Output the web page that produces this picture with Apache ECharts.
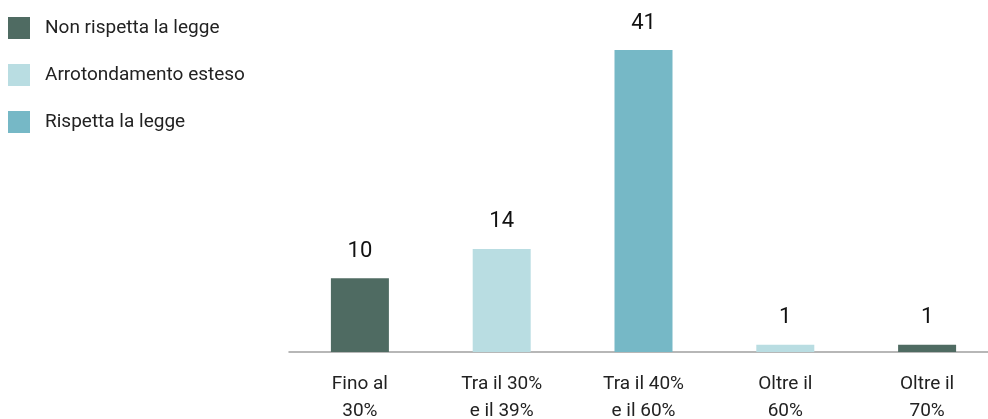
<!DOCTYPE html>
<html>
<head>
<meta charset="utf-8">
<script src="https://cdn.jsdelivr.net/npm/echarts@6/dist/echarts.min.js"></script>
<style>
  html, body { margin: 0; padding: 0; background: #fff; }
  #chart { width: 988px; height: 419px; }
</style>
</head>
<body>
<div id="chart"></div>
<script>
// categories and values
const categories = ['Fino al\n30%', 'Tra il 30%\ne il 39%', 'Tra il 40%\ne il 60%', 'Oltre il\n60%', 'Oltre il\n70%'];
const nonRispetta = [10, null, null, null, 1];
const arrotondamento = [null, 14, null, 1, null];
const rispetta = [null, null, 41, null, null];

const seriesNames = ['Non rispetta la legge', 'Arrotondamento esteso', 'Rispetta la legge'];
const colors = ['#4f6b62', '#b9dde2', '#76b8c6'];

const chart = echarts.init(document.getElementById('chart'));

function makeSeries(name, data, color) {
  return {
    name: name,
    type: 'bar',
    stack: 'all',
    data: data,
    barWidth: 58,
    itemStyle: { color: color },
    label: {
      show: true,
      position: 'top',
      distance: 16,
      color: '#111',
      fontSize: 22,
      fontFamily: 'Roboto'
    }
  };
}

const option = {
  animation: false,
  textStyle: { fontFamily: 'Roboto' },
  legend: {
    orient: 'vertical',
    left: 8,
    top: 17,
    padding: 0,
    itemWidth: 22,
    itemHeight: 22,
    itemGap: 25,
    icon: 'rect',
    textStyle: { fontSize: 19, color: '#222', padding: [0, 0, 0, 10] },
    data: seriesNames
  },
  grid: {
    left: 289,
    right: -10,
    top: 50,
    bottom: 67,
    outerBoundsMode: 'none'
  },
  xAxis: {
    type: 'category',
    data: categories,
    axisLine: { lineStyle: { color: '#a0a0a0', width: 1.5 } },
    axisTick: { show: false },
    axisLabel: {
      fontSize: 19,
      color: '#222',
      margin: 19,
      lineHeight: 27,
      interval: 0
    }
  },
  yAxis: {
    type: 'value',
    min: 0,
    max: 41,
    show: false,
    splitLine: { show: false }
  },
  series: [
    makeSeries(seriesNames[0], nonRispetta, colors[0]),
    makeSeries(seriesNames[1], arrotondamento, colors[1]),
    makeSeries(seriesNames[2], rispetta, colors[2])
  ]
};

chart.setOption(option);
</script>
</body>
</html>
